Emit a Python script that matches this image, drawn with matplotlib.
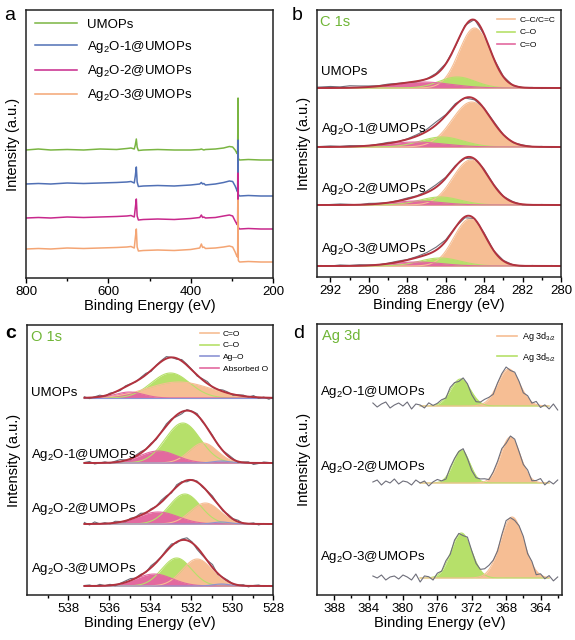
import numpy as np
import matplotlib
matplotlib.use('Agg')
import matplotlib.pyplot as plt
from matplotlib.lines import Line2D

plt.rcParams['font.family'] = ['Liberation Sans', 'DejaVu Sans']
plt.rcParams['mathtext.fontset'] = 'custom'
plt.rcParams['mathtext.rm'] = 'Liberation Sans'
plt.rcParams['mathtext.it'] = 'Liberation Sans:italic'
plt.rcParams['mathtext.bf'] = 'Liberation Sans:bold'

# ---------------- data ----------------
samples = ['UMOPs', r'Ag$_2$O-1@UMOPs', r'Ag$_2$O-2@UMOPs', r'Ag$_2$O-3@UMOPs']

# (a) survey spectra, key points (offset intensities)
E_survey = [800, 770, 740, 700, 660, 620, 580, 555, 545, 537, 534.5, 532, 530, 527,
            515, 480, 440, 400, 378, 374, 371, 368, 364, 340, 320, 306, 298, 292,
            288, 286, 284.9, 284.3, 283.5, 281, 260, 230, 200]
I_umops = [128, 129, 128, 128.5, 128, 129, 128.5, 129.5, 130, 129, 133, 139, 131, 127.5,
           128, 128.5, 128, 128, 128.5, 129, 128.5, 128, 128.5, 129, 130, 131.5, 131, 128,
           125, 124, 180, 120, 119, 118, 118.5, 118, 118]
I_ag1 = [94, 94.5, 94, 95, 94.5, 95, 95.5, 96, 96.5, 95, 102, 111, 96, 91.5,
         92, 92.5, 92, 93, 94, 95.5, 94, 94.5, 93, 94, 95.5, 97, 96.5, 92,
         88, 86, 138, 84, 83, 82, 82.5, 82, 82]
I_ag2 = [60, 60.5, 60, 61, 60.5, 61, 61.5, 62, 62.5, 61, 70, 79, 62, 58,
         58.5, 59, 58.5, 59.5, 60.5, 63, 60.5, 61, 60, 60.5, 62, 63, 62, 57,
         54, 53, 105, 51, 50, 49, 49.5, 49, 49]
I_ag3 = [29, 29.5, 29, 30, 29.5, 30, 30.5, 31, 31.5, 30, 40, 49, 31, 27,
         27.5, 28, 27.5, 28.5, 30, 34, 30.5, 31, 29.5, 30, 31, 32, 31, 26,
         22, 21, 78, 18, 17, 16, 16.5, 16, 16]
survey = [I_umops, I_ag1, I_ag2, I_ag3]

# (b) C 1s fitted components: centre (eV), FWHM (eV), height
b_base = [189, 130, 72, 11]
cc_c, cc_w, cc_h = [284.5, 284.65, 284.7, 284.75], [1.9, 2.4, 2.2, 1.95], [60, 45, 45, 47]
co_c, co_w, co_h = [285.4, 286.2, 286.3, 286.3], [2.2, 2.6, 2.5, 2.5], [11, 10, 8, 8]
cdo_c, cdo_w, cdo_h = [287.2, 287.6, 287.5, 287.5], [3.5, 3.5, 3.0, 3.0], [6, 5, 4, 4]
# raw-minus-fit residuals, every 0.5 eV from 293 eV
b_res = [
    [0.5, 1, 1.5, 1, 2, 1.5, 1, 0.5, 1, 0.5, 0, -0.5, 0, 1, 0.5, -0.5, 1, 0.5, -0.5, 0, 0.5, -0.5, 0, 0.5, -0.5, 0, 0.5],
    [0, 0.5, 1, 0.5, 1, 0.5, 0, 0.5, 1, 0, 0.5, 1.5, 2, 3, 1, 1.5, 0, -1, 0.5, 1, 0, -0.5, 0.5, 0, 0.5, -0.5, 0],
    [0.5, 0, 0.5, 1, 0.5, 0, 1, 0.5, 0, 0.5, 1, 0.5, 1.5, 2.5, 1, 1, -0.5, 0, 1, 0.5, 0, 0.5, -0.5, 0, 0.5, 0, -0.5],
    [0, 0.5, 0, 1, 0.5, 1, 0.5, 0, 0.5, 1, 0.5, 1, 2, 3, 1.5, 0.5, -1, 0.5, 1, 0, 0.5, 0, -0.5, 0.5, 0, 0.5, 0],
]

# (c) O 1s fitted components
c_base = [197, 132, 71, 9]
oco_c, oco_w, oco_h = [533.0, 532.4, 532.3, 532.7], [2.2, 2.0, 1.8, 1.7], [25, 40, 30, 28]
ocdo_c, ocdo_w, ocdo_h = [532.6, 531.4, 531.3, 531.7], [3.6, 1.6, 1.7, 1.7], [16, 20, 21, 27]
abso_c, abso_w, abso_h = [535.0, 533.6, 533.6, 533.8], [1.6, 2.1, 2.3, 2.1], [6, 12, 12, 12]
ago_c, ago_w, ago_h = [530.5, 530.5, 530.5, 530.5], [1.0, 1.0, 1.0, 1.0], [0, 2, 2, 2]
# residuals every 0.25 eV from 537.2 eV
c_res = [
    [1, -1, 0.5, 1.5, -0.5, 1, 0, -1, 1, 0.5, -0.5, 1, 1.5, -1, 0.5, 1, 2, 0, -1, 1.5,
     1, 0.5, -1, 1, 2, -0.5, 0, 1.5, 1, -1, 0.5, 1, -0.5, 1.5, -1, 0.5, -1.5, 1],
    [0.5, 1.5, -1, 0, 1, -0.5, 1, 2, 0.5, -1, 1, 1.5, 0, 1, -1, 0.5, 2, 1, -1.5, -2,
     1, 0.5, 1.5, -1, 0.5, 1, -0.5, 0, 1.5, 1, -1, 0.5, 1, -1.5, -0.5, 1, 0.5, -1],
    [1.5, -1, 2, 0, 1, -0.5, 1.5, 0.5, -1, 1, 0.5, 2, -0.5, 1, 0, 2, 1.5, -1, 2, 1,
     -1.5, 0.5, 1, -1, 0.5, 1.5, 0, -1, 1, 0.5, 1.5, -0.5, 0, 1, -1, 0.5, -0.5, 1],
    [0.5, 1, -0.5, 1.5, 0, 1, -1, 0.5, 1.5, 2, 0, 1, -0.5, 2, 1, 0.5, 1.5, 2, -1, 1,
     2.5, 1, -2, -1.5, 0.5, 3, -1, 0.5, 1, -0.5, 0, 1, -1, 0.5, 1, -0.5, 0.5, -1],
]

# (d) Ag 3d fitted components (legend order as printed)
d_samples = samples[1:]
d_base = [189, 112, 17]
ag32_c, ag32_w, ag32_h = [367.7, 367.5, 367.3], [3.0, 2.7, 3.2], [37, 46, 61]
ag52_c, ag52_w, ag52_h = [373.3, 373.2, 373.2], [2.7, 2.3, 2.8], [27, 33, 45]
# residuals every 0.5 eV from 383.5 eV
d_res = [
    [3, -1, 2, 4, -2, 1, 3, 0, 4, -3, 2, 1, -2, 3, 0, 1, 2, -1, 3, 1, -2, 2,
     1, -3, -4, -1, 2, 1, -2, 1, 2, 3, -1, 2, 1, -2, 2, -1, 3, -2, 1, -3, 2, -4],
    [1, 3, -2, 2, 0, 4, -1, 2, 1, -2, 3, 0, 2, -3, 1, 3, 0, -2, 2, 1, 0, 2,
     -1, -3, -2, 1, 2, -1, 1, 2, 3, -2, 1, 2, 0, -1, 3, -2, 1, 4, -2, 2, -1, 3],
    [2, 0, 3, -2, 1, 2, -1, 3, 1, -2, 4, -4, 2, 1, -3, 2, 0, 3, -1, 2, 1, -2,
     3, 0, -2, -1, 2, 3, 1, -1, 2, 4, 0, -2, 1, 3, -1, 2, -4, 1, -2, 2, -3, 1],
]

# ---------------- style ----------------
survey_colors = ['#7ab542', '#5070b5', '#c8288c', '#f4a574']
ORANGE, GREEN, PINK, BLUE = '#f6be94', '#b6e06a', '#e3699f', '#8c93d4'
ENV, RAW, TITLE = '#b2323e', '#6e6e7a', '#6fb536'

W, H = 575, 640
fig = plt.figure(figsize=(W / 100, H / 100), dpi=100)


def add_ax(l, t, r, b):
    return fig.add_axes([l / W, 1 - b / H, (r - l) / W, (b - t) / H])


def gauss(e, c, w, h):
    return h * np.exp(-4 * np.log(2) * ((e - c) / w) ** 2)


def style(ax, xlim, ylim, major, minor):
    ax.set_xlim(*xlim)
    ax.set_ylim(*ylim)
    ax.set_xticks(major)
    ax.set_xticks(minor, minor=True)
    ax.set_yticks([])
    ax.tick_params(axis='x', which='major', length=3.5, width=1, labelsize=9.5, pad=2)
    ax.tick_params(axis='x', which='minor', length=2.5, width=1)
    for s in ax.spines.values():
        s.set_linewidth(1.1)
        s.set_color('#222222')
    ax.set_xlabel('Binding Energy (eV)', fontsize=10.5, labelpad=1)
    ax.set_ylabel('Intensity (a.u.)', fontsize=10.5, labelpad=4)


def small_legend(ax, labels, colors, **kw):
    handles = [Line2D([], [], color=c, lw=1.2) for c in colors]
    ax.legend(handles, labels, frameon=False, **kw)


def fill_comp(ax, e, base, y, color):
    ax.fill_between(e, base, base + y, color=color, lw=0)
    ax.plot(e, base + y, color=color, lw=0.8)


# ---------------- (a) survey ----------------
ax = add_ax(26, 10, 273, 278)
for lab, I, col in zip(samples, survey, survey_colors):
    ax.plot(E_survey, I, color=col, lw=1.1, label=lab)
style(ax, (800, 200), (0, 268), [800, 600, 400, 200], [700, 500, 300])
ax.legend(loc='upper left', frameon=False, fontsize=9.5, handlelength=3.2,
          labelspacing=0.62, borderaxespad=0.25, bbox_to_anchor=(0.0, 1.0))

# ---------------- (b) C 1s ----------------
ax = add_ax(317, 10, 561, 277)
e = np.linspace(280, 293, 600)
b_lab_off = [16, 18, 16, 17]
for i in range(4):
    base = b_base[i]
    p1 = gauss(e, cc_c[i], cc_w[i], cc_h[i])
    p2 = gauss(e, co_c[i], co_w[i], co_h[i])
    p3 = gauss(e, cdo_c[i], cdo_w[i], cdo_h[i])
    fill_comp(ax, e, base, p1, ORANGE)
    fill_comp(ax, e, base, p2, GREEN)
    fill_comp(ax, e, base, p3, PINK)
    er = 293 - 0.5 * np.arange(len(b_res[i]))
    raw = base + gauss(er, cc_c[i], cc_w[i], cc_h[i]) + gauss(er, co_c[i], co_w[i], co_h[i]) \
        + gauss(er, cdo_c[i], cdo_w[i], cdo_h[i]) + np.array(b_res[i])
    ax.plot(er, raw, color=RAW, lw=0.8)
    ax.plot(e, base + p1 + p2 + p3, color=ENV, lw=1.4)
    ax.text(292.5, base + b_lab_off[i], samples[i], fontsize=9.5, va='center', ha='left')
style(ax, (292.7, 280), (0, 267), list(range(292, 279, -2)), list(range(291, 280, -2)))
ax.text(0.012, 0.955, 'C 1s', color=TITLE, fontsize=10.5, transform=ax.transAxes, va='center')
small_legend(ax, ['C\u2013C/C=C', 'C\u2013O', 'C=O'], [ORANGE, GREEN, PINK],
             loc='upper right', fontsize=6, handlelength=2.2, labelspacing=0.6,
             handletextpad=0.5, borderaxespad=0.3)

# ---------------- (c) O 1s ----------------
ax = add_ax(27, 325, 273, 595)
e = np.linspace(528, 537.2, 600)
c_lab_off = [5, 8, 15, 17]
for i in range(4):
    base = c_base[i]
    g = gauss(e, oco_c[i], oco_w[i], oco_h[i])
    o = gauss(e, ocdo_c[i], ocdo_w[i], ocdo_h[i])
    p = gauss(e, abso_c[i], abso_w[i], abso_h[i])
    b = gauss(e, ago_c[i], ago_w[i], ago_h[i])
    fill_comp(ax, e, base, g, GREEN)
    fill_comp(ax, e, base, o, ORANGE)
    fill_comp(ax, e, base, p, PINK)
    fill_comp(ax, e, base, b, BLUE)
    er = 537.2 - 0.25 * np.arange(len(c_res[i]))
    raw = base + gauss(er, oco_c[i], oco_w[i], oco_h[i]) + gauss(er, ocdo_c[i], ocdo_w[i], ocdo_h[i]) \
        + gauss(er, abso_c[i], abso_w[i], abso_h[i]) + gauss(er, ago_c[i], ago_w[i], ago_h[i]) \
        + np.array(c_res[i])
    ax.plot(er, raw, color=RAW, lw=0.8)
    ax.plot(e, base + g + o + p + b, color=ENV, lw=1.4)
    ax.text(539.8, base + c_lab_off[i], samples[i], fontsize=9.5, va='center', ha='left')
style(ax, (540, 528), (0, 270), list(range(538, 527, -2)), list(range(539, 528, -2)))
ax.text(0.015, 0.955, 'O 1s', color=TITLE, fontsize=10.5, transform=ax.transAxes, va='center')
small_legend(ax, ['C=O', 'C\u2013O', 'Ag\u2013O', 'Absorbed O'], [ORANGE, GREEN, BLUE, PINK],
             loc='upper right', fontsize=6, handlelength=2.2, labelspacing=0.45,
             handletextpad=0.5, borderaxespad=0.2)

# ---------------- (d) Ag 3d ----------------
ax = add_ax(317, 324, 562, 595)
e = np.linspace(363, 378, 600)
d_lab_off = [14, 16, 21]
for i in range(3):
    base = d_base[i]
    o = gauss(e, ag32_c[i], ag32_w[i], ag32_h[i])
    g = gauss(e, ag52_c[i], ag52_w[i], ag52_h[i])
    fill_comp(ax, e, base, g, GREEN)
    fill_comp(ax, e, base, o, ORANGE)
    er = 383.5 - 0.5 * np.arange(len(d_res[i]))
    raw = base + gauss(er, ag32_c[i], ag32_w[i], ag32_h[i]) \
        + gauss(er, ag52_c[i], ag52_w[i], ag52_h[i]) + np.array(d_res[i])
    ax.plot(er, raw, color=RAW, lw=0.8)
    ax.text(389.6, base + d_lab_off[i], d_samples[i], fontsize=9.5, va='center', ha='left')
style(ax, (390, 361.5), (0, 271), list(range(388, 363, -4)), list(range(386, 361, -4)))
ax.text(0.02, 0.955, 'Ag 3d', color=TITLE, fontsize=10.5, transform=ax.transAxes, va='center')
small_legend(ax, [r'Ag 3d$_{3/2}$', r'Ag 3d$_{5/2}$'], [ORANGE, GREEN],
             loc='upper right', fontsize=6.5, handlelength=2.2, labelspacing=0.8,
             handletextpad=0.5, borderaxespad=0.3)

# panel letters
for lab, x, y, wgt in [('a', 10, 15, 'normal'), ('b', 297, 15, 'normal'),
                       ('c', 11, 333, 'bold'), ('d', 299, 333, 'normal')]:
    fig.text(x / W, 1 - y / H, lab, fontsize=14, weight=wgt, ha='center', va='center')

fig.savefig('out.png', dpi=100)
